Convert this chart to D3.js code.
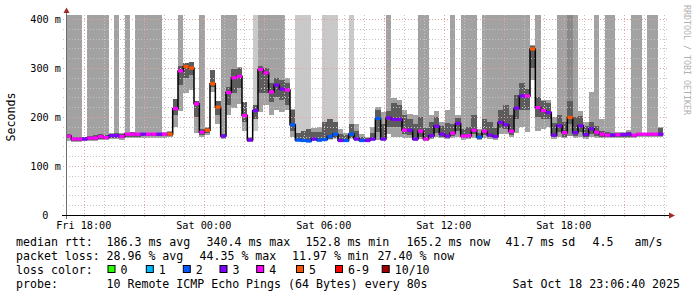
<!DOCTYPE html>
<html lang="en">
<head>
<meta charset="UTF-8">
<title>SmokePing latency</title>
<script src="https://d3js.org/d3.v7.min.js"></script>
<style>
  body { margin: 0; background: #fff; }
  svg { display: block; }
  text { font-family: "DejaVu Sans Mono", monospace; fill: #000; }
</style>
</head>
<body>
<svg id="chart"></svg>
<script>
// one value per 16 minute step, first step starts Fri 17:06:40
var median = [
  161,155,155,155,157,157,160,158,162,162,
  160,165,165,165,165,165,165,165,165,165,
  217,294,303,300,227,169,173,268,220,161,
  250,280,283,203,153,213,297,290,251,265,
  257,255,184,153,152,151,155,153,154,160,
  165,152,152,165,155,152,152,155,197,155,
  198,195,195,173,173,155,171,155,162,181,
  165,161,167,187,161,162,173,159,171,163,
  160,189,184,171,218,243,243,339,219,213,
  209,163,182,168,199,168,182,164,176,169,
  165,163,163,164,164,165,163,165,165,165,
  165,165
];
// lost pings bucket (index into lossLabels)
var lossBucket = [
  4,4,4,3,4,4,4,4,3,3,
  4,4,4,4,3,4,4,3,4,5,
  4,4,5,5,4,4,5,5,5,3,
  4,4,4,4,3,3,4,4,4,3,
  3,4,2,2,2,2,3,2,2,2,
  2,3,2,2,3,2,3,3,2,3,
  3,3,3,4,3,3,4,4,3,3,
  3,3,4,3,4,4,4,2,4,3,
  3,3,3,4,3,3,4,5,4,4,
  3,3,3,4,5,3,3,3,3,4,
  4,4,3,4,3,3,4,4,4,4,
  4,3
];
// smoke: lowest and highest ping (450 = beyond top of graph)
var smokeLow = [
  151,150,150,151,151,152,153,153,155,155,
  154,157,157,157,158,158,158,158,158,159,
  179,213,250,255,167,160,163,252,185,155,
  204,219,226,172,150,172,210,225,205,215,
  210,215,160,150,150,149,151,150,151,153,
  155,150,150,155,152,150,150,152,154,152,
  165,160,160,158,157,152,155,152,155,160,
  157,155,158,160,153,155,158,154,158,156,
  154,165,165,160,168,180,170,275,172,175,
  180,155,160,157,162,158,160,155,160,158,
  158,157,157,158,158,158,158,160,160,160,
  160,160
];
var smokeHigh = [
  450,450,450,160,450,450,450,450,167,450,
  168,450,170,450,450,450,450,450,170,172,
  236,450,311,312,233,450,180,296,232,450,
  450,450,303,231,160,450,450,450,450,450,
  450,280,216,450,450,450,178,180,450,450,
  450,175,168,450,186,165,160,180,221,210,
  450,238,235,215,207,205,450,450,205,212,
  190,215,450,205,450,450,450,175,450,450,
  450,450,450,450,450,450,450,347,450,235,
  235,200,450,450,450,450,212,190,251,450,
  195,450,450,170,170,173,450,450,168,450,
  450,180
];
// inner (dense) part of the smoke
var coreLow = [
  157,152,152,153,153,154,156,155,158,158,
  157,160,160,160,161,161,161,161,161,161,
  205,265,280,285,200,163,167,262,205,158,
  225,250,260,190,152,195,250,250,230,240,
  235,225,172,151,151,151,153,152,153,156,
  158,151,151,158,153,151,151,153,170,155,
  180,180,180,165,163,155,160,155,158,168,
  160,158,162,172,157,158,165,156,163,159,
  157,178,176,164,195,215,215,300,200,195,
  195,160,170,160,185,162,170,160,165,162,
  160,160,160,160,160,160,160,162,162,162,
  162,162
];
var coreHigh = [
  166,160,160,159,162,163,165,164,166,167,
  166,168,169,168,168,168,168,168,168,170,
  236,305,310,312,233,175,178,296,232,166,
  262,299,300,231,158,225,305,300,270,280,
  275,270,214,168,172,176,170,170,190,195,
  190,165,163,185,172,160,157,168,215,185,
  212,228,225,205,195,185,200,178,190,200,
  182,188,185,198,175,180,205,168,195,190,
  178,215,225,205,245,270,258,345,240,232,
  228,188,205,190,232,200,202,182,190,182,
  172,170,168,168,168,170,166,168,167,168,
  168,178
];
var paleSteps = [35, 43, 44, 45, 48, 49, 50, 53];
var darkSteps = [94];

var lossLabels = ["0", "1", "2", "3", "4", "5", "6-9", "10/10"];
var lossColors = ["#26ff00", "#00b8ff", "#0059ff", "#7e00ff", "#ff00ff", "#ff5500", "#ff0000", "#a10000"];
var yTicks = [0, 100, 200, 300, 400];
var medianStats = ["186.3 ms avg", "340.4 ms max", "152.8 ms min", "165.2 ms now", "41.7 ms sd", "4.5", "am/s"];
var lossStats = ["28.96 % avg", "44.35 % max", "11.97 % min", "27.40 % now"];
var probeText = "10 Remote ICMP Echo Pings (64 Bytes) every 80s";
var stampText = "Sat Oct 18 23:06:40 2025";

var W = 697, H = 297;
var start = new Date(2025, 9, 17, 17, 6, 40),
    end = new Date(2025, 9, 18, 23, 6, 40),
    stepMin = 16;

var svg = d3.select("#chart").attr("width", W).attr("height", H);

var x = d3.scaleTime().domain([start, end]).range([66, 666]);
var y = d3.scaleLinear().domain([0, 408.2]).range([215, 15]).clamp(true);

var steps = median.map(function (m, i) {
  return {
    i: i,
    t0: d3.timeMinute.offset(start, stepMin * i),
    t1: d3.timeMinute.offset(start, stepMin * (i + 1)),
    med: m, loss: lossBucket[i],
    lo: smokeLow[i], hi: smokeHigh[i], clo: coreLow[i], chi: coreHigh[i]
  };
});

// smoke
var smoke = svg.append("g").attr("shape-rendering", "crispEdges");
smoke.selectAll(".outer")
  .data(steps)
  .enter().append("rect")
    .attr("x", function (d) { return x(d.t0); })
    .attr("width", function (d) { return x(d.t1) - x(d.t0); })
    .attr("y", function (d) { return y(d.hi); })
    .attr("height", function (d) { return y(d.lo) - y(d.hi); })
    .attr("fill", function (d) {
      if (paleSteps.indexOf(d.i) >= 0) return "#c9c9c9";
      if (darkSteps.indexOf(d.i) >= 0) return "#8a8a8a";
      return "#a2a2a2";
    });
smoke.selectAll(".core")
  .data(steps)
  .enter().append("rect")
    .attr("x", function (d) { return x(d.t0); })
    .attr("width", function (d) { return x(d.t1) - x(d.t0); })
    .attr("y", function (d) { return y(d.chi); })
    .attr("height", function (d) { return y(d.clo) - y(d.chi); })
    .attr("fill", "#5c5c5c");

// grid
var grid = svg.append("g").attr("fill", "none").attr("stroke-dasharray", "1,2");
d3.range(20, 401, 20).forEach(function (v) {
  grid.append("line")
    .attr("x1", 63).attr("x2", 668)
    .attr("y1", Math.round(y(v)) + 0.5).attr("y2", Math.round(y(v)) + 0.5)
    .attr("stroke", v % 100 === 0 ? "#e3a3a3" : "#c4c4c4");
});
var majorHours = x.ticks(d3.timeHour.every(3)).map(function (t) { return +t; });
x.ticks(d3.timeHour.every(1)).forEach(function (t) {
  var px = Math.round(x(t)) + 0.5;
  grid.append("line")
    .attr("x1", px).attr("x2", px)
    .attr("y1", 15).attr("y2", 218)
    .attr("stroke", majorHours.indexOf(+t) >= 0 ? "#e3a3a3" : "#c4c4c4");
});

// median line
var pts = steps.map(function (d) { return [x(d.t0), y(d.med)]; });
pts.push([x(steps[steps.length - 1].t1), y(median[median.length - 1])]);
svg.append("path")
  .attr("d", d3.line().curve(d3.curveStepAfter)(pts))
  .attr("fill", "none")
  .attr("stroke", "#000")
  .attr("stroke-width", 1.5);

// loss coloured median segments (horizontal only, the black line joins them)
svg.append("g").selectAll(".seg")
  .data(steps)
  .enter().append("line")
    .attr("x1", function (d) { return x(d.t0); })
    .attr("x2", function (d) { return x(d.t1); })
    .attr("y1", function (d) { return y(d.med); })
    .attr("y2", function (d) { return y(d.med); })
    .attr("stroke", function (d) { return lossColors[d.loss]; })
    .attr("stroke-width", 3.2);

// axes
svg.append("line").attr("x1", 66.5).attr("x2", 66.5).attr("y1", 219).attr("y2", 11)
  .attr("stroke", "#6e6e6e");
svg.append("line").attr("x1", 62).attr("x2", 670).attr("y1", 215.5).attr("y2", 215.5)
  .attr("stroke", "#000");
svg.append("path").attr("d", "M63.5,13L66.5,7.5L69.5,13Z").attr("fill", "#9e2a2a");
svg.append("path").attr("d", "M669,212.5L675,215.5L669,218.5Z").attr("fill", "#9e2a2a");

// y labels
svg.selectAll(".ylab")
  .data(yTicks)
  .enter().append("text")
    .attr("x", function (v) { return v === 0 ? 48.5 : 61; })
    .attr("y", function (v) { return y(v); })
    .attr("dy", "0.36em")
    .attr("text-anchor", "end")
    .style("font-size", "10.2px")
    .text(function (v) { return v === 0 ? "0" : v + " m"; });

// x labels
svg.selectAll(".xlab")
  .data(x.ticks(d3.timeHour.every(6)))
  .enter().append("text")
    .attr("x", function (t) { return x(t); })
    .attr("y", 229)
    .attr("text-anchor", "middle")
    .style("font-size", "10.2px")
    .text(d3.timeFormat("%a %H:%M"));

// axis title
svg.append("text")
  .attr("transform", "translate(15,117) rotate(-90)")
  .attr("text-anchor", "middle")
  .style("font-size", "11.6px")
  .text("Seconds");

// watermark
svg.append("text")
  .attr("transform", "translate(684,5) rotate(90)")
  .style("font-size", "8.3px")
  .style("fill", "#b0b0b0")
  .text("RRDTOOL / TOBI OETIKER");

// legend
var leg = svg.append("g").style("font-size", "11.6px");
function put(str, px, py) {
  leg.append("text").attr("x", px).attr("y", py).attr("xml:space", "preserve").text(str);
}
var statX = [107, 207, 306, 407, 506, 593, 635];
put("median rtt:", 16, 245.5);
medianStats.forEach(function (s, i) { put(s, statX[i] - 0.5, 245.5); });
var lossX = [107, 200, 292.5, 378];
put("packet loss:", 16, 259.5);
lossStats.forEach(function (s, i) { put(s, lossX[i] - 0.5, 259.5); });
put("loss color:", 16, 273.7);
var swatchX = [107.5, 145.8, 182.8, 219.5, 256.2, 296, 335, 381.7];
lossLabels.forEach(function (l, i) {
  leg.append("rect")
    .attr("x", swatchX[i] + 0.5).attr("y", 265.5)
    .attr("width", 7).attr("height", 7)
    .attr("fill", lossColors[i]).attr("stroke", "#000").attr("stroke-width", 1);
  put(l, swatchX[i] + 13, 273.7);
});
put("probe:", 16, 287.8);
put(probeText, 106.5, 287.8);
put(stampText, 512.5, 287.8);
</script>
</body>
</html>
